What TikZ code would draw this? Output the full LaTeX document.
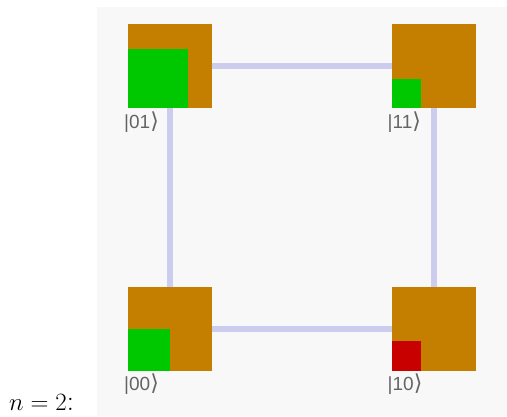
\documentclass[tikz,border=0pt]{standalone}
\usepackage{fontspec}
\setsansfont{Liberation Sans}
\newfontfamily\symfont{DejaVu Sans}
\usetikzlibrary{backgrounds}
\definecolor{panel}{RGB}{248,248,248}
\definecolor{boxorange}{RGB}{196,127,0}
\definecolor{qgreen}{RGB}{0,200,0}
\definecolor{qred}{RGB}{200,0,0}
\definecolor{edgecol}{RGB}{204,204,238}
\definecolor{labgray}{RGB}{100,100,100}
\newcommand{\ketend}{{\symfont\fontsize{22}{24}\selectfont ⟩}}
\begin{document}
\begin{tikzpicture}[x=1pt,y=-1pt,
  qbox/.style={fill=boxorange,draw=none,minimum size=84pt,inner sep=0pt,outer sep=0pt},
  amp/.style={draw=none,inner sep=0pt,outer sep=0pt,anchor=south west},
  edge/.style={edgecol,line width=6pt},
  klabel/.style={anchor=west,inner sep=0pt,text=labgray,font=\sffamily\fontsize{19}{22}\selectfont}]
\useasboundingbox (0,0) rectangle (507,416);
\node[qbox] (b01) at (170,66) {};
\node[qbox] (b11) at (433.5,66) {};
\node[qbox] (b00) at (170,328.7) {};
\node[qbox] (b10) at (433.5,328.7) {};
\node[amp,fill=qgreen,minimum size=59.5pt] (a01) at (b01.south west) {};
\node[amp,fill=qgreen,minimum size=29.5pt] (a11) at (b11.south west) {};
\node[amp,fill=qgreen,minimum size=42pt] (a00) at (b00.south west) {};
\node[amp,fill=qred,minimum size=29.5pt] (a10) at (b10.south west) {};
\node[klabel] (l01) at (124,122) {|01\ketend};
\node[klabel] (l11) at (387.5,122) {|11\ketend};
\node[klabel] (l00) at (124,384.5) {|00\ketend};
\node[klabel] (l10) at (387.5,384.5) {|10\ketend};
\node[anchor=base west,inner sep=0pt,font=\fontsize{28.5}{32}\selectfont] (nlab) at (9,410) {$n=2$:};
\begin{pgfonlayer}{background}
\fill[panel] (97,7) rectangle (507,416);
\draw[edge] (b01.center) -- (b11.center);
\draw[edge] (b00.center) -- (b10.center);
\draw[edge] (b01.center) -- (b00.center);
\draw[edge] (b11.center) -- (b10.center);
\end{pgfonlayer}
\end{tikzpicture}
\end{document}
